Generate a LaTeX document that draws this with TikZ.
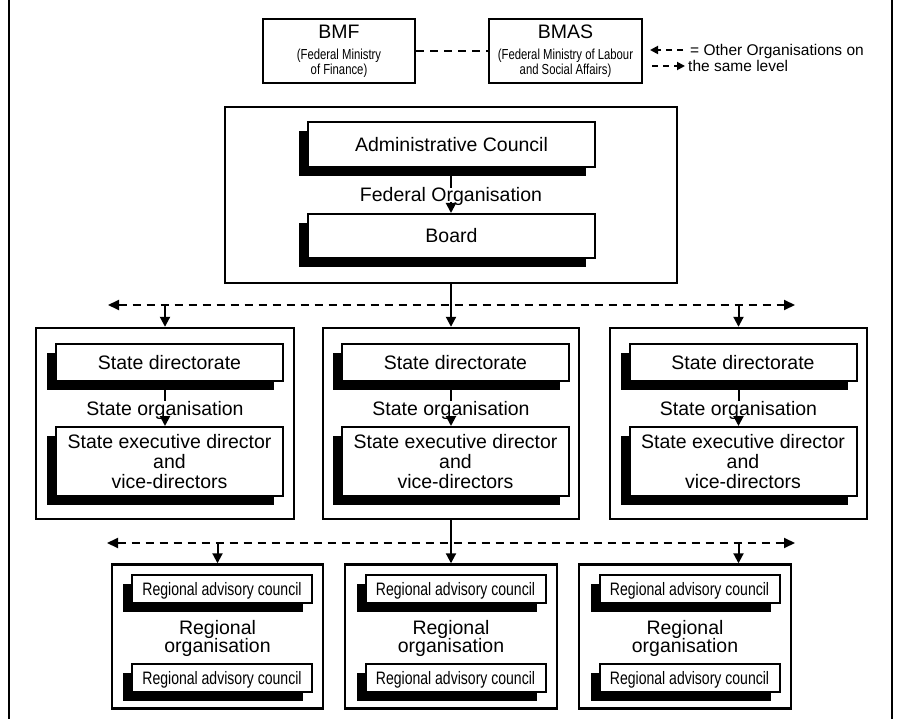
\documentclass[tikz,border=0pt]{standalone}
\usepackage{fontspec}
\setmainfont{Liberation Sans}
\newfontfamily\narrowfont[FakeStretch=0.78]{Liberation Sans}
\usetikzlibrary{arrows.meta,shadows}
\newcommand\bigsz{\fontsize{19.5}{20}\selectfont\lineskiplimit=-10pt}
\newcommand\orgsz{\fontsize{19.5}{18.5}\selectfont\lineskiplimit=-10pt}
\newcommand\subsz{\narrowfont\fontsize{14.5}{15}\selectfont\lineskiplimit=-10pt}
\newcommand\regsz{\narrowfont\fontsize{18}{18}\selectfont}
\newcommand\legsz{\fontsize{15.5}{17}\selectfont}
\begin{document}
\begin{tikzpicture}[x=1pt,y=-1pt,
  frame/.style={draw, line width=2.4pt, inner sep=0pt, rectangle, fill=white},
  shbox/.style={draw, fill=white, line width=2pt, inner sep=0pt, rectangle,
     drop shadow={shadow xshift=-9pt, shadow yshift=-9pt, fill=black, opacity=1}},
  onebox/.style={shbox, font=\bigsz, text height=14pt, text depth=0pt},
  regbox/.style={shbox, font=\regsz, text height=13pt, text depth=0pt,
     minimum width=180pt, minimum height=28pt},
  txt/.style={inner sep=0pt, font=\bigsz},
  arr/.style={line width=2pt, -{Triangle[length=10pt,width=10pt]}},
  plain/.style={line width=2pt},
  dl/.style={line width=2pt, dash pattern=on 8pt off 6pt,
     {Triangle[length=11pt,width=10pt]}-{Triangle[length=11pt,width=10pt]}},
  dshort/.style={line width=2pt, dash pattern=on 8pt off 6pt},
  lgarr/.style={line width=1.8pt, dash pattern=on 6pt off 5pt, -{Triangle[length=8pt,width=8pt]}}
]
\useasboundingbox (0,0) rectangle (897,719);

% page frame lines
\coordinate (fl1) at (9,0); \coordinate (fl2) at (9,719);
\coordinate (fr1) at (892,0); \coordinate (fr2) at (892,719);
\draw[line width=2.5pt] (fl1) -- (fl2);
\draw[line width=2.5pt] (fr1) -- (fr2);

% ministries
\node[frame, minimum width=152pt, minimum height=64pt] (bmf) at (339,51) {};
\node[txt, anchor=base] (bmft) at (339,39) {BMF};
\node[inner sep=0pt, font=\subsz, align=center] (bmfs) at (339,63) {(Federal Ministry\\of Finance)};
\node[frame, minimum width=153pt, minimum height=64pt] (bmas) at (565.5,51) {};
\node[txt, anchor=base] (bmast) at (565.5,39) {BMAS};
\node[inner sep=0pt, font=\subsz, align=center] (bmass) at (565.5,63) {(Federal Ministry of Labour\\and Social Affairs)};
\draw[dshort] (bmf) -- (bmas);

% legend
\coordinate (lga1) at (683,50); \coordinate (lgb1) at (650,50);
\coordinate (lga2) at (652,66); \coordinate (lgb2) at (685,66);
\draw[lgarr] (lga1) -- (lgb1);
\draw[lgarr] (lga2) -- (lgb2);
\node[inner sep=0pt, font=\legsz, anchor=base west] (lgt1) at (690,55.6) {= Other Organisations on};
\node[inner sep=0pt, font=\legsz, anchor=base west] (lgt2) at (688,71.6) {the same level};

% federal organisation
\node[frame, minimum width=452pt, minimum height=176pt] (fed) at (451,195) {};
\node[onebox, minimum width=287pt, minimum height=45pt] (adm) at (451.5,144.5) {Administrative Council};
\node[onebox, minimum width=287pt, minimum height=44pt] (board) at (451.5,236) {Board};
\node[txt, anchor=base] (fo) at (451,202) {Federal Organisation};
\draw[plain] (adm.south -| fo) -- (fo.north);
\draw[arr] (fo.base) -- (board.north -| fo);

% state level
\foreach \n/\cx/\w in {1/165/258, 2/451/256, 3/738.5/257}{
  \node[frame, minimum width=\w pt, minimum height=191pt] (st\n) at (\cx,423.5) {};
  \node[onebox, minimum width=227pt, minimum height=37pt] (dir\n) at (\cx+4.5,362.5) {State directorate};
  \node[shbox, font=\bigsz, align=center, minimum width=227pt, minimum height=69pt] (ex\n) at (\cx+4.5,461.5) {State executive director\\and\\vice-directors};
  \node[txt, anchor=base] (so\n) at (\cx,415.5) {State organisation};
  \draw[plain] (dir\n.south -| so\n) -- (so\n.north);
  \draw[arr] (so\n.base) -- (ex\n.north -| so\n.base);
}

% regional level
\foreach \n/\cx/\w in {1/217.5/211, 2/451/212, 3/685/212}{
  \node[frame, minimum width=\w pt, minimum height=144pt] (rg\n) at (\cx,636.5) {};
  \node[regbox] (ra\n) at (\cx+4.5,589) {Regional advisory council};
  \node[regbox] (rb\n) at (\cx+4.5,678) {Regional advisory council};
  \node[inner sep=0pt, font=\orgsz, align=center] (ro\n) at (\cx,638.5) {Regional\\organisation};
}

% upper distribution line
\coordinate (dl1) at (108,305); \coordinate (dr1) at (795,305);
\draw[dl] (dl1) -- (dr1);
\draw[arr] (fed.south) -- (st2.north);
\draw[arr] (st1.north |- dl1) -- (st1.north);
\draw[arr] (st3.north |- dl1) -- (st3.north);

% lower distribution line
\coordinate (dl2) at (107,543); \coordinate (dr2) at (795,543);
\draw[dl] (dl2) -- (dr2);
\draw[arr] (st2.south) -- (rg2.north);
\draw[arr] (rg1.north |- dl2) -- (rg1.north);
\draw[arr] (st3.south |- dl2) -- (st3.south |- rg3.north);
\end{tikzpicture}
\end{document}
